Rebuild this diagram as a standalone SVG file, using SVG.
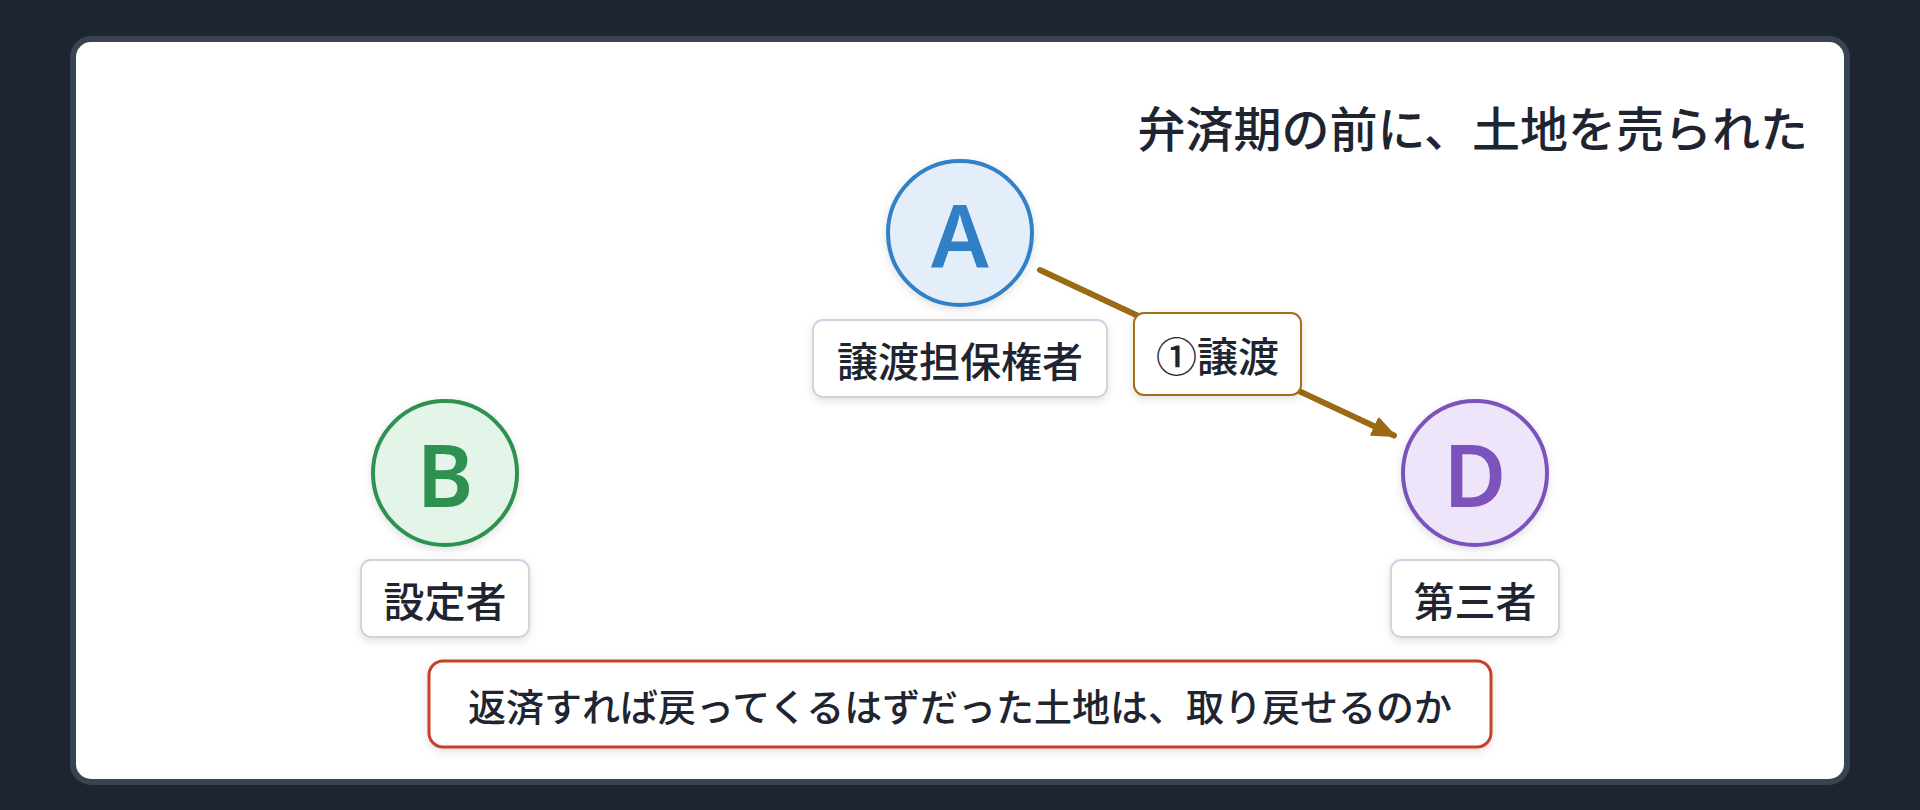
<svg xmlns="http://www.w3.org/2000/svg" width="1920" height="810" viewBox="0 0 1920 810">
  <defs>
    <filter id="sh" x="-20%" y="-20%" width="140%" height="150%">
      <feDropShadow dx="0" dy="3" stdDeviation="4" flood-color="#000" flood-opacity="0.12"/>
    </filter>
    <marker id="arr" markerUnits="userSpaceOnUse" markerWidth="26" markerHeight="22" viewBox="0 0 26 22" refX="22" refY="11" orient="auto">
      <path d="M1,2 L23,11 L1,20 z" fill="#9a6a14" stroke="#9a6a14" stroke-width="2" stroke-linejoin="round"/>
    </marker>
    <style>
      .jp { font-family: "Noto Sans CJK JP", "Noto Sans", sans-serif; fill: #1e2530; }
      .title { font-size: 48px; font-weight: 500; }
      .lbl { font-size: 41px; font-weight: 500; }
      .q { font-size: 38px; font-weight: 500; }
      .letter { font-family: "Noto Sans", "DejaVu Sans", sans-serif; font-size: 86px; font-weight: 600; }
      .lblbox { fill: #ffffff; stroke: #cdd5e0; stroke-width: 2; }
    </style>
  </defs>

  <rect x="0" y="0" width="1920" height="810" fill="#1e2530"/>
  <rect x="73" y="39" width="1774" height="743" rx="18" fill="#ffffff" stroke="#3a4352" stroke-width="6"/>

  <text class="jp title" x="1808" y="126" text-anchor="end" dominant-baseline="central">弁済期の前に、土地を売られた</text>

  <g id="connectors">
    <line x1="1040" y1="270" x2="1394" y2="435.5" stroke="#9a6a14" stroke-width="6" stroke-linecap="round" marker-end="url(#arr)"/>
    <g id="edge-label">
      <rect x="1134" y="313" width="167" height="82" rx="10" fill="#ffffff" stroke="#a07016" stroke-width="2" filter="url(#sh)"/>
      <text class="jp lbl" x="1217.5" y="354" text-anchor="middle" dominant-baseline="central">①譲渡</text>
    </g>
  </g>

  <g id="node-A">
    <circle cx="960" cy="233" r="72" fill="#e3eefa" stroke="#3180c6" stroke-width="4" filter="url(#sh)"/>
    <text class="letter" x="960" y="233" text-anchor="middle" dominant-baseline="central" fill="#3180c6">A</text>
    <rect class="lblbox" x="813" y="320" width="294" height="77" rx="10" filter="url(#sh)"/>
    <text class="jp lbl" x="960" y="358.5" text-anchor="middle" dominant-baseline="central">譲渡担保権者</text>
  </g>

  <g id="node-B">
    <circle cx="445" cy="473" r="72" fill="#e3f5e8" stroke="#2f9150" stroke-width="4" filter="url(#sh)"/>
    <text class="letter" x="445" y="473" text-anchor="middle" dominant-baseline="central" fill="#2f9150">B</text>
    <rect class="lblbox" x="361" y="560" width="168" height="77" rx="10" filter="url(#sh)"/>
    <text class="jp lbl" x="445" y="598.5" text-anchor="middle" dominant-baseline="central">設定者</text>
  </g>

  <g id="node-D">
    <circle cx="1475" cy="473" r="72" fill="#efe5fa" stroke="#7c52bb" stroke-width="4" filter="url(#sh)"/>
    <text class="letter" x="1475" y="473" text-anchor="middle" dominant-baseline="central" fill="#7c52bb">D</text>
    <rect class="lblbox" x="1391" y="560" width="168" height="77" rx="10" filter="url(#sh)"/>
    <text class="jp lbl" x="1475" y="598.5" text-anchor="middle" dominant-baseline="central">第三者</text>
  </g>

  <g id="question">
    <rect x="429" y="661" width="1062" height="86" rx="14" fill="#ffffff" stroke="#c8412b" stroke-width="3" filter="url(#sh)"/>
    <text class="jp q" x="960" y="704" text-anchor="middle" dominant-baseline="central">返済すれば戻ってくるはずだった土地は、取り戻せるのか</text>
  </g>
</svg>
